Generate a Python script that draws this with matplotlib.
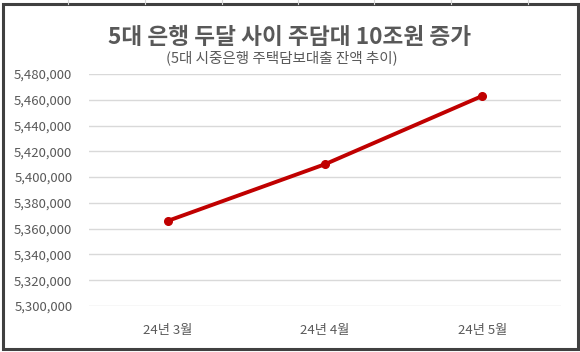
import matplotlib
matplotlib.use("Agg")
from matplotlib import pyplot as plt
from matplotlib.patches import Rectangle
from matplotlib.lines import Line2D
from matplotlib.ticker import FuncFormatter

plt.rcParams['font.family'] = ['Noto Sans CJK KR', 'DejaVu Sans']

months = ['24년 3월', '24년 4월', '24년 5월']
balance = [5366000, 5410000, 5463000]
y_ticks = list(range(5300000, 5480001, 20000))

title = '5대 은행 두달 사이 주담대 10조원 증가'
subtitle = '(5대 시중은행 주택담보대출 잔액 추이)'

fig = plt.figure(figsize=(5.8, 3.52), dpi=100)
W, H = 580, 352

# sheet gridlines peeking above the chart frame
for gx in [68, 145, 222, 298, 374, 451, 528]:
    fig.add_artist(Line2D([gx / W, gx / W], [1 - 4 / H, 1], color='#d4d4d4', lw=0.8))

# chart frame
fig.add_artist(Rectangle((2.5 / W, 3 / H), 575 / W, 345 / H, transform=fig.transFigure,
                         fill=False, edgecolor='#404040', lw=2.2))

ax = fig.add_axes([89 / W, 1 - 306 / H, 472 / W, 232 / H])
x = range(len(months))
ax.plot(x, balance, color='#C00000', lw=2.8, marker='o', markersize=5.5, solid_capstyle='round')

ax.set_xlim(-0.5, 2.5)
ax.set_ylim(5300000, 5480000)
ax.set_yticks(y_ticks)
ax.yaxis.set_major_formatter(FuncFormatter(lambda v, p: f'{int(v):,}'))
ax.set_xticks(list(x))
ax.set_xticklabels(months)
ax.grid(axis='y', color='#d9d9d9', lw=1)
ax.set_axisbelow(True)
for s in ax.spines.values():
    s.set_visible(False)
ax.tick_params(axis='both', length=0, colors='#595959', labelsize=9.5)
ax.tick_params(axis='y', pad=12)
ax.tick_params(axis='x', pad=13)

fig.text(290 / W, 1 - 37 / H, title, ha='center', va='center', fontsize=16.3,
         fontweight='bold', color='#595959')
fig.text(282 / W, 1 - 58 / H, subtitle, ha='center', va='center', fontsize=10.5, color='#595959')

fig.savefig('out.png', dpi=100, facecolor='white')
